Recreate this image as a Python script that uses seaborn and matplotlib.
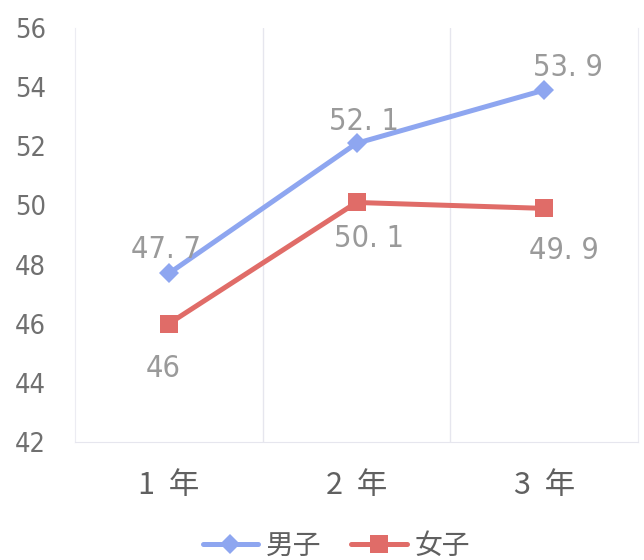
import matplotlib
matplotlib.use("Agg")
import matplotlib.pyplot as plt
import seaborn as sns
import pandas as pd
from matplotlib.lines import Line2D

grades = ["1  年", "2  年", "3  年"]
boys = [47.7, 52.1, 53.9]
girls = [46.0, 50.1, 49.9]
series_names = ["男子", "女子"]
boy_labels = ["47. 7", "52. 1", "53. 9"]
girl_labels = ["46", "50. 1", "49. 9"]
yticks = [42, 44, 46, 48, 50, 52, 54, 56]

sns.set_style("white")
plt.rcParams['font.family'] = ['Noto Sans CJK JP', 'DejaVu Sans']

df = pd.DataFrame({
    "x": list(range(len(grades))) * 2,
    "value": boys + girls,
    "sex": [series_names[0]] * 3 + [series_names[1]] * 3,
})

blue = "#8ea6f0"
red = "#e06c68"
cond = ["DejaVu Sans"]

fig = plt.figure(figsize=(6.44, 5.6), dpi=100)
ax = fig.add_axes([75 / 644, 1 - 442 / 560, (638 - 75) / 644, (442 - 28) / 560])

sns.lineplot(data=df, x="x", y="value", hue="sex", style="sex",
             palette={series_names[0]: blue, series_names[1]: red},
             markers={series_names[0]: "D", series_names[1]: "s"},
             dashes=False, linewidth=3.6, markersize=12, markeredgewidth=0,
             ax=ax, legend=False)
for line in ax.get_lines():
    if line.get_marker() == "D":
        line.set_markersize(10)
    elif line.get_marker() == "s":
        line.set_markersize(13)

ax.set_xlim(-0.5, 2.5)
ax.set_ylim(42, 56)
ax.set_yticks(yticks)
ax.set_xticks(range(len(grades)))
ax.set_xticklabels(grades)
ax.set_xlabel("")
ax.set_ylabel("")

for v in [0.5, 1.5]:
    ax.axvline(v, color="#e6e6ee", lw=1, zorder=0)
ax.spines["top"].set_visible(False)
ax.spines["left"].set_color("#ececf2")
ax.spines["bottom"].set_color("#e6e6ee")
ax.spines["right"].set_color("#ececf2")

ax.tick_params(axis="y", length=0, pad=21, labelcolor="#707070")
ax.tick_params(axis="x", length=0, pad=20, labelsize=22, labelcolor="#606060")
for t in ax.get_yticklabels():
    t.set_fontfamily(cond)
    t.set_fontstretch("condensed")
    t.set_fontsize(19.5)

offs_b = [(-2, 17), (5, 16), (17, 16)]
offs_g = [(-4, -32), (9, -26), (14, -30)]
for i, (v, lab) in enumerate(zip(boys, boy_labels)):
    ax.annotate(lab, (i, v), xytext=offs_b[i], textcoords="offset points",
                ha="center", va="center", fontsize=22, color="#9a9a9a",
                family=cond, fontstretch="condensed")
for i, (v, lab) in enumerate(zip(girls, girl_labels)):
    ax.annotate(lab, (i, v), xytext=offs_g[i], textcoords="offset points",
                ha="center", va="center", fontsize=22, color="#9a9a9a",
                family=cond, fontstretch="condensed")

handles = [Line2D([], [], color=blue, lw=3.6, marker="D", markersize=10, markeredgewidth=0),
           Line2D([], [], color=red, lw=3.6, marker="s", markersize=13, markeredgewidth=0)]
fig.legend(handles, series_names, loc="center", bbox_to_anchor=(0.522, 1 - 546 / 560),
           ncol=2, frameon=False, fontsize=20, handlelength=2.0, handletextpad=0.26,
           columnspacing=1.1, labelcolor="#606060", borderpad=0)

fig.savefig("out.png", dpi=100, facecolor="white")
